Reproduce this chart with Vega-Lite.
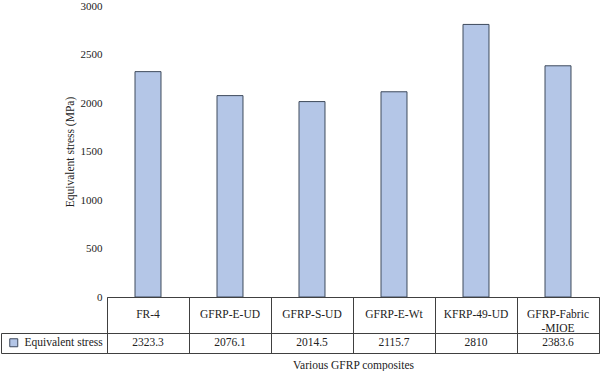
{
  "$schema": "https://vega.github.io/schema/vega-lite/v6.json",
  "padding": {"left": 0, "top": 0, "right": 0, "bottom": 0},
  "bounds": "flush",
  "spacing": 0,
  "background": "white",
  "config": {
    "font": "Liberation Serif",
    "axis": {"labelFont": "Liberation Serif", "titleFont": "Liberation Serif", "labelColor": "#222", "titleColor": "#222", "titleFontWeight": "normal"},
    "legend": {"labelFont": "Liberation Serif", "labelColor": "#222"}
  },
  "datasets": {
    "gfrp": [
      {"composite": "FR-4", "label": "FR-4", "stress": 2323.3, "series": "Equivalent stress"},
      {"composite": "GFRP-E-UD", "label": "GFRP-E-UD", "stress": 2076.1, "series": "Equivalent stress"},
      {"composite": "GFRP-S-UD", "label": "GFRP-S-UD", "stress": 2014.5, "series": "Equivalent stress"},
      {"composite": "GFRP-E-Wt", "label": "GFRP-E-Wt", "stress": 2115.7, "series": "Equivalent stress"},
      {"composite": "KFRP-49-UD", "label": "KFRP-49-UD", "stress": 2810, "series": "Equivalent stress"},
      {"composite": "GFRP-Fabric-MIOE", "label": "GFRP-Fabric\n-MIOE", "stress": 2383.6, "series": "Equivalent stress"}
    ]
  },
  "resolve": {"legend": {"color": "independent"}},
  "vconcat": [
    {
      "width": 492,
      "height": 291,
      "view": {"stroke": null},
      "data": {"name": "gfrp"},
      "mark": {"type": "bar", "stroke": "#3e4a5c", "strokeWidth": 1},
      "encoding": {
        "x": {"field": "composite", "type": "nominal", "sort": null, "scale": {"paddingInner": 0.683, "paddingOuter": 0.3415}, "axis": null},
        "y": {
          "field": "stress", "type": "quantitative",
          "scale": {"domain": [0, 3000]},
          "axis": {"values": [0, 500, 1000, 1500, 2000, 2500, 3000], "format": "d", "grid": false, "domain": false, "ticks": false, "labelPadding": 5, "labelFontSize": 11, "title": "Equivalent stress (MPa)", "titleFontSize": 11.5, "titlePadding": 5}
        },
        "color": {"field": "series", "type": "nominal", "scale": {"range": ["#b4c6e7"]}, "legend": null}
      }
    },
    {
      "width": 492,
      "height": 36,
      "view": {"stroke": "#404040"},
      "data": {"name": "gfrp"},
      "mark": {"type": "text", "fontSize": 11.5, "color": "#222", "lineBreak": "\n", "lineHeight": 14},
      "encoding": {
        "x": {"field": "composite", "type": "nominal", "sort": null, "scale": {"paddingInner": 0, "paddingOuter": 0}, "axis": {"grid": true, "tickBand": "extent", "gridColor": "#404040", "gridOpacity": 1, "labels": false, "ticks": false, "domain": false, "title": null}},
        "text": {"field": "label"}
      }
    },
    {
      "width": 492,
      "height": 20,
      "view": {"stroke": "#404040"},
      "data": {"name": "gfrp"},
      "encoding": {
        "x": {"field": "composite", "type": "nominal", "sort": null, "scale": {"paddingInner": 0, "paddingOuter": 0}, "axis": {"grid": true, "tickBand": "extent", "gridColor": "#404040", "gridOpacity": 1, "labels": false, "ticks": false, "domain": false, "title": "Various GFRP composites", "titleFontSize": 11.5, "titlePadding": 6}}
      },
      "layer": [
        {
          "transform": [{"filter": "false"}],
          "mark": {"type": "square"},
          "encoding": {
            "color": {"field": "series", "type": "nominal", "legend": {"orient": "left", "offset": 0, "title": null, "strokeColor": "#404040", "padding": 4, "symbolType": "square", "symbolSize": 64, "symbolStrokeColor": "#3e4a5c", "symbolStrokeWidth": 1, "symbolOpacity": 1, "labelFontSize": 11.5, "symbolOffset": 3, "labelOffset": 5}}
          }
        },
        {
          "mark": {"type": "text", "fontSize": 11.5, "color": "#222"},
          "encoding": {"text": {"field": "stress", "type": "nominal"}}
        }
      ]
    }
  ]
}
